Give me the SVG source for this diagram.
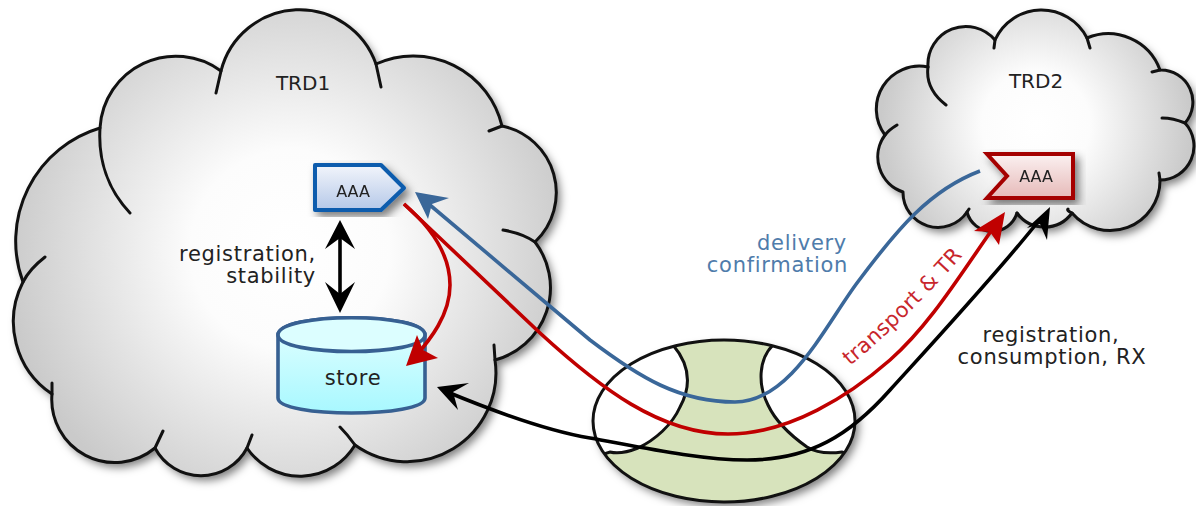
<svg xmlns="http://www.w3.org/2000/svg" xmlns:xlink="http://www.w3.org/1999/xlink" width="1196" height="506" viewBox="0 0 1196 506">
<style>
.out{fill:none;stroke:#111;stroke-width:3;stroke-linecap:round;stroke-linejoin:round}
.t{font-family:"DejaVu Sans",sans-serif;font-size:21px;letter-spacing:.7px;fill:#222}
.e{text-anchor:end}
.m{text-anchor:middle}
.conn{fill:none;stroke-width:3.6;stroke-linejoin:round}
</style>
<defs>
<radialGradient id="g1" gradientUnits="userSpaceOnUse" cx="290" cy="250" r="285"><stop offset="0" stop-color="#fff"/><stop offset=".35" stop-color="#fcfcfc"/><stop offset="1" stop-color="#cacaca"/></radialGradient>
<radialGradient id="g2" gradientUnits="userSpaceOnUse" cx="1036" cy="125" r="155"><stop offset="0" stop-color="#fff"/><stop offset=".35" stop-color="#fcfcfc"/><stop offset="1" stop-color="#cacaca"/></radialGradient>
<linearGradient id="gb" x1="0" y1="0" x2="0" y2="1"><stop offset="0" stop-color="#f2f5fb"/><stop offset="1" stop-color="#b5c8e8"/></linearGradient>
<linearGradient id="gr" x1="0" y1="0" x2="0" y2="1"><stop offset="0" stop-color="#fbf1f1"/><stop offset="1" stop-color="#e6b9b8"/></linearGradient>
<linearGradient id="gs" x1="0" y1="0" x2="0" y2="1"><stop offset="0" stop-color="#e4ffff"/><stop offset="1" stop-color="#a8f8ff"/></linearGradient>
<filter id="sh" x="-10%" y="-10%" width="125%" height="125%"><feDropShadow dx="4" dy="5" stdDeviation="4" flood-color="#000" flood-opacity=".5"/></filter>
<clipPath id="oval"><ellipse cx="724" cy="421" rx="131" ry="81"/></clipPath>
<path id="tp" d="M850,366 Q906,320 968,250"/>
<path id="c1" d="M100,128 A76,76 0 0 1 221,71 A81,81 0 0 1 376,64 A91,91 0 0 1 502,126 A68,68 0 0 1 535,242 A75,75 0 0 1 495,360 A89,89 0 0 1 355,445 A64,64 0 0 1 247,448 A52,52 0 0 1 155,448 A63,63 0 0 1 52,394 A87,87 0 0 1 23,282 A118,118 0 0 1 100,128 Z"/>
<path id="c2" d="M928,67 A38,38 0 0 1 995,40 A51,51 0 0 1 1087,38 A55,55 0 0 1 1160,70 A32,32 0 0 1 1185,123 A34,34 0 0 1 1160,180 A50,50 0 0 1 1072,213 A34,34 0 0 1 1017,213 A26,26 0 0 1 967,212 A35,35 0 0 1 903,192 A37,37 0 0 1 885,135 A43,43 0 0 1 928,67 Z"/>
</defs>

<g id="cloud1">
<use href="#c1" fill="url(#g1)" filter="url(#sh)"/>
<use href="#c1" class="out"/>
<path class="out" d="M100,128 C98,160 108,190 130,213 M221,71 L216,93 M376,64 L381,87 M502,126 L489,131 M535,242 C525,235 515,232 503,230 M495,360 L494,345 M355,445 C350,438 345,432 340,427 M247,448 L252,435 M155,448 L163,431 M52,394 L52,383 M23,282 C28,272 36,264 45,257"/>
<text class="t m" x="303" y="90" style="font-size:20px;letter-spacing:0">TRD1</text>
</g>

<g id="cloud2">
<use href="#c2" fill="url(#g2)" filter="url(#sh)"/>
<use href="#c2" class="out"/>
<path class="out" d="M928,67 C926,82 933,95 946,105 M995,40 L994,48 M1087,38 L1090,48 M1160,70 L1152,72 M1185,123 C1178,120 1170,118 1162,118 M1160,180 L1159,173 M885,135 C888,131 892,128 897,125 M1072,213 C1068,211 1067,210 1068,209 M1017,213 L1019,216 M967,212 L969,209"/>
<text class="t m" x="1036" y="88" style="font-size:20px;letter-spacing:0">TRD2</text>
</g>

<g id="network">
<ellipse cx="724" cy="421" rx="131" ry="81" fill="#d7e3bc" filter="url(#sh)"/>
<g clip-path="url(#oval)">
<path fill="#fff" stroke="#111" stroke-width="3" d="M673,345 C690,365 692,385 680,407 C672,425 655,440 638,448 C628,452 618,454 610,452 L585,460 L580,340 Z"/>
<path fill="#fff" stroke="#111" stroke-width="3" d="M773,345 C758,360 758,385 768,405 C775,420 790,435 807,447 C815,452 828,454 842,452 L870,460 L870,340 Z"/>
</g>
<ellipse cx="724" cy="421" rx="131" ry="81" fill="none" stroke="#111" stroke-width="3"/>
</g>

<g id="store">
<path fill="url(#gs)" stroke="#376092" stroke-width="3.6" d="M278,335 C278,312 425,312 425,335 L425,398 C425,418 278,418 278,398 Z"/>
<path fill="#dcfeff" stroke="#376092" stroke-width="3.6" d="M278,335 C278,312 425,312 425,335 C425,357 278,357 278,335 Z"/>
<text class="t m" x="353" y="385">store</text>
</g>

<g id="aaa1" filter="url(#sh)">
<path fill="url(#gb)" stroke="#0b5cad" stroke-width="4" stroke-linejoin="round" d="M315,165 L381,165 L404,188 L381,210 L315,210 Z"/>
<text class="t m" x="353" y="197" style="font-size:16px;letter-spacing:0">AAA</text>
</g>

<g id="aaa2" filter="url(#sh)">
<path fill="url(#gr)" stroke="#a50000" stroke-width="4" stroke-linejoin="miter" d="M987,154 L1073,154 L1073,198 L987,198 L1007,176 Z"/>
<text class="t m" x="1036" y="182" style="font-size:16px;letter-spacing:0">AAA</text>
</g>

<g id="connectors">
<path class="conn" stroke="#3a6799" d="M980,171 C930,190 898,228 857,283 C825,326 790,402 735,402 C680,402 640,378 590,340 L424,200"/>
<polygon fill="#3a6799" points="415,192 449,198 432,204 428,219"/>
<path class="conn" stroke="#c00000" d="M404,204 L540,333 C600,388 660,434 728,434 C790,434 850,395 890,360 C930,325 960,275 996,224"/>
<polygon fill="#c00000" points="1005,212 999,245 990,232 974,231"/>
<path class="conn" stroke="#c00000" d="M404,204 C425,222 450,250 450,285 C450,315 430,340 414,358"/>
<polygon fill="#c00000" points="406,366 417,335 423,350 438,358"/>
<path class="conn" stroke="#000" d="M445,391 C510,418 560,433 590,438 C640,447 700,460 747,460 C810,460 850,435 890,390 C940,335 1000,270 1041,218"/>
<polygon fill="#000" points="437,387 469,383 453,392 458,410"/>
<polygon fill="#000" points="1050,207 1047,240 1040,224 1027,228"/>
<path class="conn" stroke="#000" d="M340,232 L340,300"/>
<polygon fill="#000" points="340,220 355,249 340,238 325,249"/>
<polygon fill="#000" points="340,313 325,282 340,294 355,282"/>
</g>

<g id="labels">
<text class="t e" x="316" y="261">registration,</text>
<text class="t e" x="316" y="283">stability</text>
<text class="t e" x="847" y="250" style="fill:#4f7cab">delivery</text>
<text class="t e" x="848" y="272" style="fill:#4f7cab">confirmation</text>
<text class="t m" x="1051" y="342">registration,</text>
<text class="t m" x="1052" y="364">consumption, RX</text>
<text class="t" style="fill:#c8262c;letter-spacing:.3px"><textPath xlink:href="#tp" href="#tp">transport &amp; TR</textPath></text>
</g>
</svg>
